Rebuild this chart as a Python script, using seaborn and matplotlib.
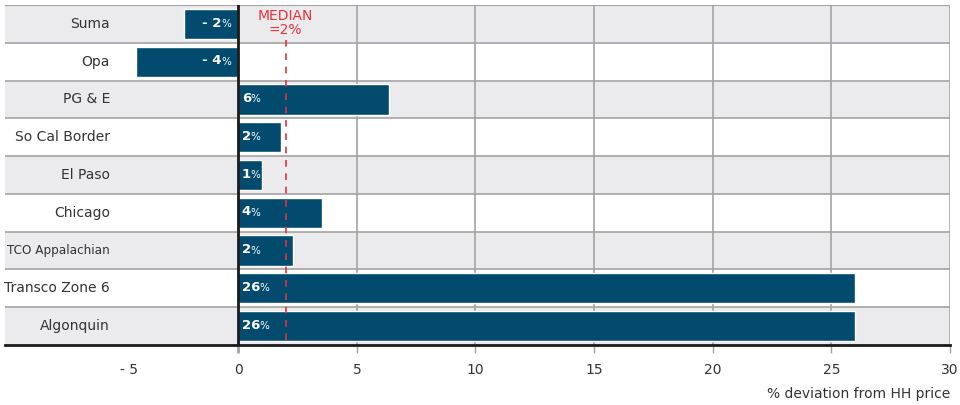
import matplotlib
matplotlib.use("Agg")
import matplotlib.pyplot as plt
import matplotlib.transforms as mtransforms
import seaborn as sns
import pandas as pd

# valores
hubs = ["Suma", "Opa", "PG & E", "So Cal Border", "El Paso", "Chicago",
        "TCO Appalachian", "Transco Zone 6", "Algonquin"]
desvio = [-2.3, -4.3, 6.35, 1.8, 1.0, 3.55, 2.3, 26.0, 26.0]
rotulos = ["- 2", "- 4", "6", "2", "1", "4", "2", "26", "26"]
mediana = 2.0
xticks = [-5, 0, 5, 10, 15, 20, 25, 30]
xtick_labels = ["- 5", "0", "5", "10", "15", "20", "25", "30"]

azul = "#024b6e"
cinza_faixa = "#ebebee"
cinza_linha = "#a3a3a3"
vermelho = "#e8323c"

df = pd.DataFrame({"hub": hubs, "desvio": desvio})

sns.set_style("white")
plt.rcParams["font.family"] = ["DejaVu Sans"]

fig = plt.figure(figsize=(9.6, 4.05), dpi=100)
ax = fig.add_axes([5 / 960, 60 / 405, 945 / 960, 340 / 405])

n = len(hubs)
# faixas alternadas
for i in range(n):
    if i % 2 == 0:
        ax.axhspan(i - 0.5, i + 0.5, color=cinza_faixa, zorder=0, lw=0)
for i in range(n - 1):
    ax.axhline(i + 0.5, color=cinza_linha, lw=1.2, zorder=1)
ax.axhline(-0.5, color=cinza_linha, lw=1.5, zorder=1)

# linhas verticais de grade
for v in [5, 10, 15, 20, 25, 30]:
    ax.axvline(v, color=cinza_linha, lw=1.2, zorder=1)

sns.barplot(data=df, x="desvio", y="hub", color=azul, orient="h",
            width=0.8, saturation=1, ax=ax, zorder=2)

ax.set_xlim(-9.83, 30)
ax.set_ylim(n - 0.5, -0.5)

ax.axvline(0, color="#1a1a1a", lw=2, zorder=4)

for s in ["left", "right", "top"]:
    ax.spines[s].set_visible(False)
ax.spines["bottom"].set_color("#1a1a1a")
ax.spines["bottom"].set_linewidth(2)
ax.spines["bottom"].set_zorder(5)

ax.set_xticks(xticks)
ax.set_xticklabels(xtick_labels, fontsize=10, color="#333333")
ax.tick_params(axis="x", length=6, width=1, color=cinza_linha, pad=7, bottom=True)
ticks = ax.xaxis.get_major_ticks()
ticks[0].tick1line.set_visible(False)
ticks[0].label1.set_horizontalalignment("left")
ticks[1].tick1line.set_color("#1a1a1a")
ticks[1].tick1line.set_markeredgewidth(2)
ax.set_yticks([])
ax.set_ylabel("")
ax.set_xlabel("% deviation from HH price", fontsize=10, color="#333333",
              ha="right", x=1.0, labelpad=7)

# linha da mediana
ax.plot([mediana, mediana], [0.42, n - 0.5], ls=(0, (4, 4)), color=vermelho,
        lw=1.2, zorder=6)
ax.text(mediana, -0.02, "MEDIAN\n=2%", ha="center", va="center", fontsize=10,
        color=vermelho, linespacing=1.0, zorder=6)

# nomes dos hubs dentro da area do grafico (o mais longo vai condensado)
trans = mtransforms.blended_transform_factory(ax.transAxes, ax.transData)
for i, h in enumerate(hubs):
    longo = len(h) > 14
    ax.text(0.111, i, h, transform=trans, ha="right", va="center",
            fontsize=9.6 if longo else 10, color="#333333",
            fontstretch="condensed" if longo else "normal")

# rotulos das barras
fig.canvas.draw()
rend = fig.canvas.get_renderer()
for i, (v, r) in enumerate(zip(desvio, rotulos)):
    if v < 0:
        pct = ax.annotate("%", (0, i), xytext=(-5, 0), textcoords="offset points",
                          ha="right", va="center", fontsize=7.5, color="white",
                          zorder=7)
        bb = pct.get_window_extent(rend)
        ax.annotate(r, (0, i), xytext=(-5 - bb.width * 72 / 100 + 0.3, 0.6),
                    textcoords="offset points", ha="right", va="center",
                    fontsize=9.5, fontweight="bold", color="white", zorder=7)
    else:
        num = ax.annotate(r, (0, i), xytext=(2.5, 0.6), textcoords="offset points",
                          ha="left", va="center", fontsize=9.5,
                          fontweight="bold", color="white", zorder=7)
        bb = num.get_window_extent(rend)
        ax.annotate("%", (0, i), xytext=(2.5 + bb.width * 72 / 100 - 0.3, 0),
                    textcoords="offset points", ha="left", va="center",
                    fontsize=7.5, color="white", zorder=7)

fig.savefig("out.png", dpi=100)
